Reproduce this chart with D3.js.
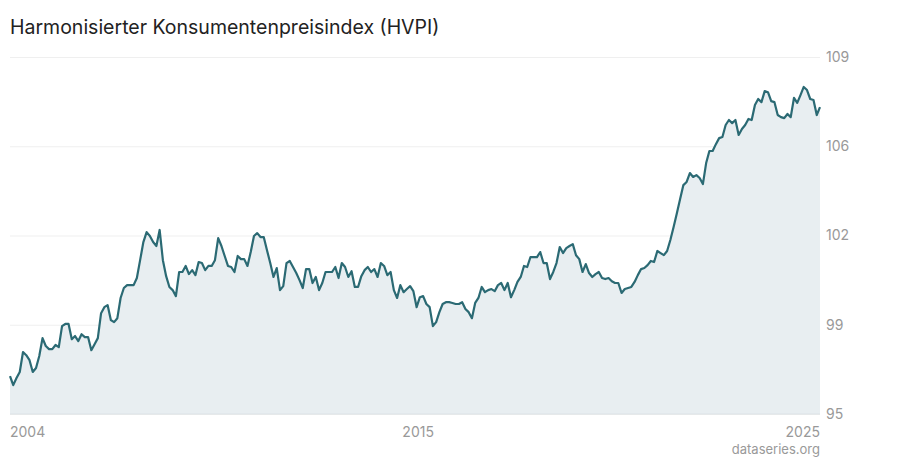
<!DOCTYPE html>
<html><head><meta charset="utf-8">
<script src="https://cdn.jsdelivr.net/npm/d3@7"></script>
<style>body{margin:0;background:#fff;font-family:Inter,"Noto Sans",sans-serif}</style>
</head><body><svg id="c" width="900" height="460"></svg>
<script>
const title = "Harmonisierter Konsumentenpreisindex (HVPI)";
const source = "dataseries.org";
const startYear = 2004.0, endYear = 2025.83;
const values = [
96.84,96.50,96.77,97.00,97.76,97.64,97.45,97.00,97.15,97.61,
98.29,97.99,97.87,97.87,98.03,97.95,98.75,98.83,98.83,98.25,
98.37,98.18,98.44,98.33,98.33,97.83,98.06,98.29,99.24,99.47,
99.55,98.98,98.90,99.05,99.82,100.20,100.31,100.31,100.31,100.58,
101.26,101.95,102.33,102.18,101.95,101.80,102.41,101.26,100.65,100.24,
100.12,99.89,100.81,100.81,101.04,100.73,100.88,100.69,101.19,101.15,
100.88,101.04,101.04,101.26,102.10,101.80,101.42,101.04,101.00,100.81,
101.42,101.30,101.30,101.04,101.57,102.18,102.29,102.14,102.14,
101.64,101.15,
100.62,100.96,100.12,100.27,101.15,101.23,101.00,100.77,100.50,100.20,
100.92,100.92,100.39,100.62,100.12,100.39,100.81,100.81,100.81,101.00,
100.58,101.15,101.00,100.62,100.84,100.24,100.24,100.65,100.88,101.00,
100.81,100.92,100.62,101.15,101.04,100.69,100.81,100.12,99.82,100.31,
100.04,100.16,100.27,100.08,99.47,99.85,99.89,99.59,99.47,98.75,
98.90,99.28,99.59,99.66,99.66,99.63,99.59,99.59,99.66,99.40,
99.28,99.05,99.63,99.82,100.24,100.04,100.12,100.16,100.08,100.31,
100.39,100.12,100.39,99.85,100.12,100.43,100.62,101.04,101.00,101.38,
101.38,101.38,101.57,101.15,101.15,
100.54,100.81,101.15,101.76,101.53,101.72,101.80,101.87,101.45,101.30,
100.81,101.11,100.77,100.62,100.73,100.81,100.58,100.54,100.58,100.46,
100.39,100.39,100.01,100.16,100.20,100.24,100.43,100.69,100.92,100.96,
101.07,101.23,101.19,101.61,101.53,101.45,101.61,102.03,102.52,103.05,
103.59,104.12,104.24,104.58,104.43,104.50,104.39,104.16,104.96,105.42,
105.42,105.68,105.91,105.95,106.41,106.60,106.48,106.60,106.03,106.26,
106.41,106.64,106.60,107.17,107.40,107.28,107.70,107.66,107.32,107.28,
106.79,106.71,106.67,106.83,106.71,107.44,107.25,107.55,107.86,107.74,
107.40,107.36,106.79,107.09];
const yTickValues = [95.4, 98.8, 102.2, 105.6, 109.0];
const xTickYears = [2004, 2015, 2025];
const xTickLabels = ["2004", "2015", "2025"];

const L = 10, R = 820, T = 57, B = 414;
const svg = d3.select("#c");
const n = values.length;
const data = values.map((v, i) => ({t: startYear + i * (endYear - startYear) / (n - 1), v}));
const x = d3.scaleLinear().domain([startYear, endYear]).range([L, R]);
const y = d3.scaleLinear().domain([95.4, 109.0]).range([B, T]);

svg.append("text").attr("x", 10).attr("y", 34).attr("font-size", 19.5).attr("fill", "#222").text(title);

const yAxis = d3.axisRight(y).tickValues(yTickValues).tickSize(-(R - L)).tickFormat(d => Math.round(d));
const ga = svg.append("g").attr("transform", `translate(${R},0)`).call(yAxis);
ga.select(".domain").remove();
ga.selectAll("line").attr("stroke", "#efefef");
ga.selectAll("text").attr("x", 6).attr("font-size", 14).attr("fill", "#999").attr("font-family", "Inter,sans-serif");

svg.append("path").datum(data).attr("fill", "#e8eef1")
  .attr("d", d3.area().x(d => x(d.t)).y0(B).y1(d => y(d.v)));
svg.append("line").attr("x1", L).attr("x2", R).attr("y1", B).attr("y2", B).attr("stroke", "#dde3e6");
svg.append("path").datum(data).attr("fill", "none").attr("stroke", "#2b6a74").attr("stroke-width", 2.2)
  .attr("stroke-linejoin", "round").attr("d", d3.line().x(d => x(d.t)).y(d => y(d.v)));

xTickYears.forEach((yr, i) => {
  const last = i === xTickYears.length - 1;
  const px = i === 0 ? L : (last ? R : x(yr));
  const anchor = i === 0 ? "start" : (last ? "end" : "middle");
  svg.append("text").attr("x", px).attr("y", 437).attr("text-anchor", anchor)
    .attr("font-size", 14).attr("fill", "#999").text(xTickLabels[i]);
});
svg.append("text").attr("x", R).attr("y", 454).attr("text-anchor", "end")
  .attr("font-size", 13).attr("fill", "#999").text(source);
</script></body></html>
